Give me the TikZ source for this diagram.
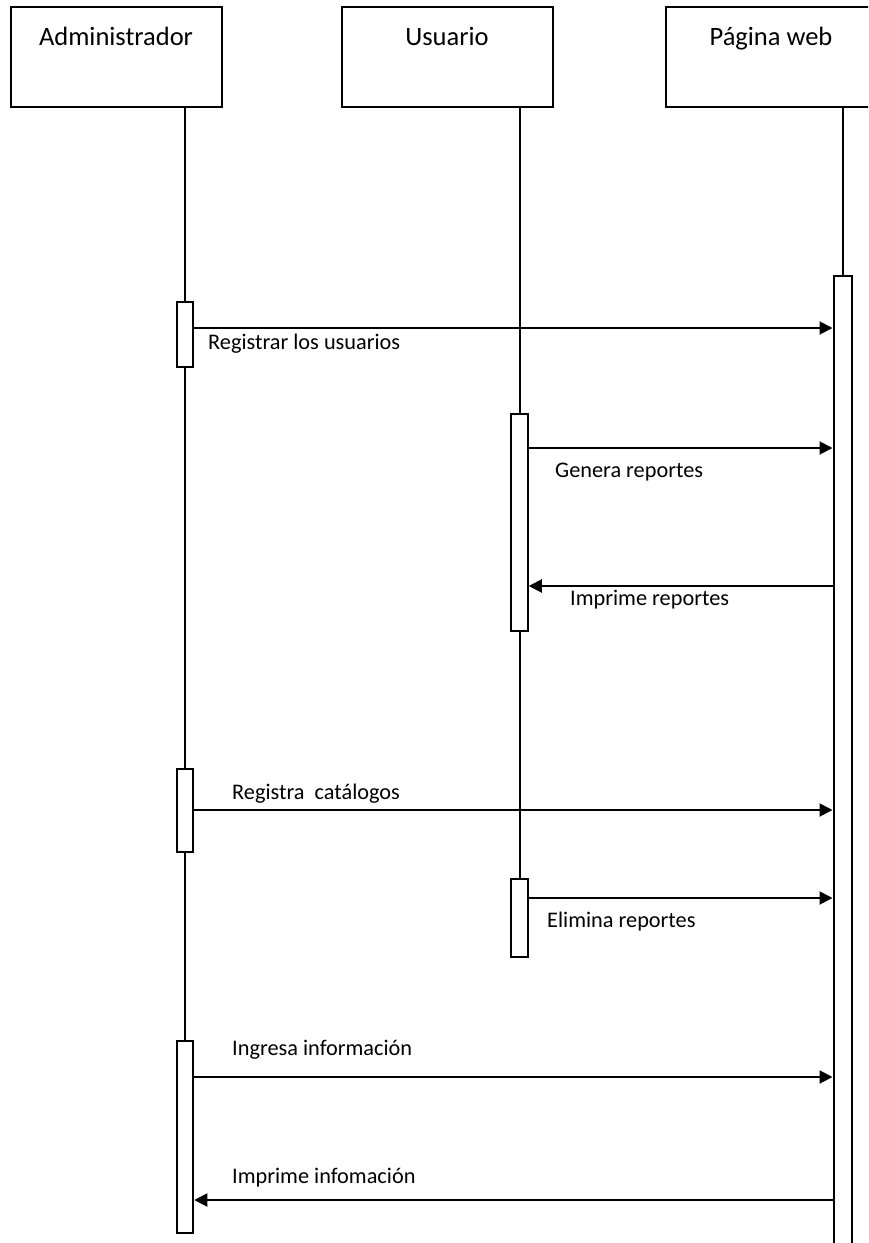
\documentclass[tikz,border=0pt]{standalone}
\usepackage{fontspec}
\setmainfont{Carlito}
\usetikzlibrary{arrows.meta}
\usetikzlibrary{positioning}

\tikzset{
  head/.style={draw, line width=2pt, fill=white, minimum width=211pt, minimum height=100pt, inner sep=0pt},
  headtext/.style={anchor=base, inner sep=0pt, font=\fontsize{26.5}{31}\selectfont},
  act/.style={draw, line width=2pt, fill=white, minimum width=16.5pt, inner sep=0pt},
  life/.style={line width=2pt},
  msg/.style={line width=2pt, -{Triangle[length=13pt,width=13pt]}},
  msgtext/.style={anchor=base west, inner sep=0pt, font=\fontsize{22.3}{26}\selectfont}
}

\begin{document}
\begin{tikzpicture}[x=1pt,y=-1pt]
\clip (0,0) rectangle (868,1243);

\node[head] (adm) at (116,57) {};
\node[head] (usr) at (447,57) {};
\node[head] (web) at (771,57) {};
\node[headtext] (admtxt) at ([yshift=-39pt]adm.north) {Administrador};
\node[headtext] (usrtxt) at ([yshift=-39pt]usr.north) {Usuario};
\node[headtext] (webtxt) at ([yshift=-39pt]web.north) {Página web};

\node[act, minimum height=65pt] (adm1) at (185,334.5) {};
\node[act, minimum height=83pt] (adm2) at (185,810.5) {};
\node[act, minimum height=192pt] (adm3) at (185,1137) {};
\node[act, minimum height=217pt] (usr1) at (519.5,522.5) {};
\node[act, minimum height=78pt] (usr2) at (519.5,918) {};
\node[act, minimum width=18pt, minimum height=984pt] (webact) at (842.5,768) {};

\draw[life] (adm.south -| adm1) -- (adm1.north);
\draw[life] (adm1.south) -- (adm2.north);
\draw[life] (adm2.south) -- (adm3.north);
\draw[life] (usr.south -| usr1) -- (usr1.north);
\draw[life] (usr1.south) -- (usr2.north);
\draw[life] (web.south -| webact) -- (webact.north);

\draw[msg] (adm1.east |- 0,328) -- (webact.west |- 0,328);
\node[msgtext] (m1) at (208,349) {Registrar los usuarios};

\draw[msg] (usr1.east |- 0,448) -- (webact.west |- 0,448);
\node[msgtext] (m2) at (555,477) {Genera reportes};

\draw[msg] (webact.west |- 0,586) -- (usr1.east |- 0,586);
\node[msgtext] (m3) at (570,605) {Imprime reportes};

\draw[msg] (adm2.east |- 0,810) -- (webact.west |- 0,810);
\node[msgtext] (m4) at (232,799) {Registra\ \ catálogos};

\draw[msg] (usr2.east |- 0,898) -- (webact.west |- 0,898);
\node[msgtext] (m5) at (547,927) {Elimina reportes};

\draw[msg] (adm3.east |- 0,1077) -- (webact.west |- 0,1077);
\node[msgtext] (m6) at (232,1055) {Ingresa información};

\draw[msg] (webact.west |- 0,1200) -- (adm3.east |- 0,1200);
\node[msgtext] (m7) at (232,1183) {Imprime infomación};
\end{tikzpicture}
\end{document}
